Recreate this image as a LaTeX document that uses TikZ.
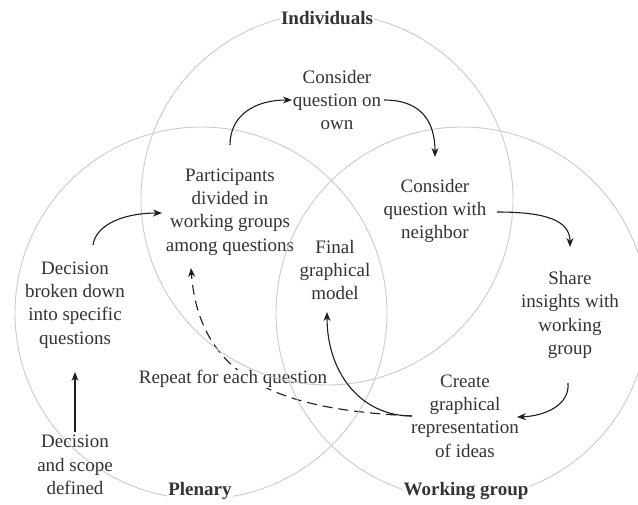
\documentclass[tikz,border=0pt]{standalone}
\usepackage{fontspec}
\setmainfont{Liberation Serif}
\usetikzlibrary{arrows.meta}
\definecolor{txt}{HTML}{333333}
\definecolor{arr}{HTML}{1E1E1E}
\definecolor{circ}{HTML}{CBCBCB}
\begin{document}
\begin{tikzpicture}[x=1pt,y=-1pt,
  lbl/.style={align=center,text=txt,font=\fontsize{19}{23.3}\selectfont,inner sep=1pt},
  title/.style={text=txt,font=\fontsize{19}{23}\selectfont\bfseries,fill=white,inner sep=1pt},
  ring/.style={draw=circ,line width=0.9pt},
  flow/.style={draw=arr,line width=1.1pt,-{Stealth[length=9pt,width=7pt]}},
  dflow/.style={flow,dash pattern=on 10pt off 6pt}]
\useasboundingbox (0,0) rectangle (638,504);
\fill[white] (0,0) rectangle (638,504);
% dashed repeat connector (behind its label)
\node[lbl] (part) at (230,212) {Participants\\divided in\\working groups\\among questions};
\node[lbl] (create) at (465,416) {Create\\graphical\\representation\\of ideas};
\coordinate (dstart) at (412,416);
\coordinate (dend) at (191,268);
\draw[dflow] (dstart) .. controls (300,410) and (200,390) .. (dend);
\node[lbl,fill=white,inner sep=0pt] (repeat) at (233,379) {Repeat for each question};
% circles
\draw[ring] (327,199) circle[radius=186pt];
\draw[ring] (201,313) circle[radius=186pt];
\draw[ring] (462,313) circle[radius=186pt];
% titles
\node[title] (ind) at (327,18) {Individuals};
\node[title] (plen) at (200,491) {Plenary};
\node[title] (wg) at (466,491) {Working group};
% text nodes
\node[lbl] (own) at (337,100) {Consider\\question on\\own};
\node[lbl] (nb) at (435,211) {Consider\\question with\\neighbor};
\node[lbl] (final) at (335,270) {Final\\graphical\\model};
\node[lbl] (broken) at (75,305) {Decision\\broken down\\into specific\\questions};
\node[lbl] (defined) at (75,465) {Decision\\and scope\\defined};
\node[lbl] (share) at (570,315) {Share\\insights with\\working\\group};
% connectors
\draw[flow] (defined.north) ++(0,-2) coordinate (a1) (a1) -- (75,372) coordinate (a1e);
\coordinate (b1) at (93,245);
\coordinate (b1e) at (162,213);
\draw[flow] (b1) .. controls (96,224) and (125,213) .. (b1e);
\coordinate (c1) at (230,145);
\coordinate (c1e) at (292,100);
\draw[flow] (c1) .. controls (230,115) and (255,100) .. (c1e);
\coordinate (d1) at (384,100);
\coordinate (d1e) at (435,157);
\draw[flow] (d1) .. controls (420,100) and (435,120) .. (d1e);
\coordinate (e1) at (497,212);
\coordinate (e1e) at (570,247);
\draw[flow] (e1) .. controls (545,212) and (570,220) .. (e1e);
\coordinate (f1) at (568,383);
\coordinate (f1e) at (517,417);
\draw[flow] (f1) .. controls (570,405) and (545,416) .. (f1e);
\coordinate (g1e) at (327,312);
\draw[flow] (dstart) .. controls (360,416) and (327,372) .. (g1e);
\end{tikzpicture}
\end{document}
